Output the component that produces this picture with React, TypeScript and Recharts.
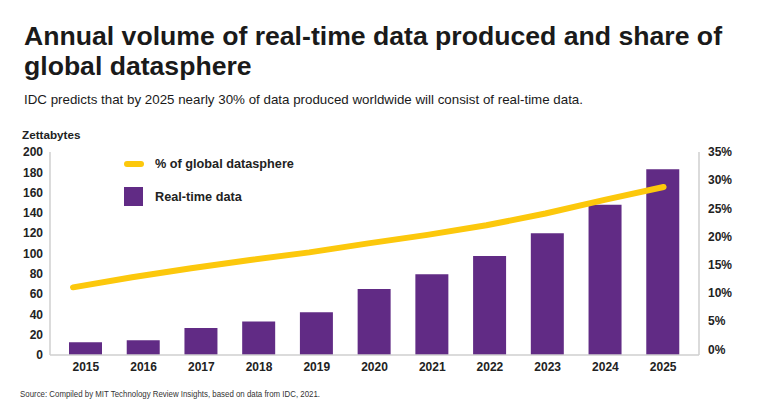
import React from 'react';
import { ComposedChart, Bar, Line, XAxis, YAxis, Legend } from 'recharts';

const years = ['2015', '2016', '2017', '2018', '2019', '2020', '2021', '2022', '2023', '2024', '2025'];
const realTimeZB = [12.5, 14.5, 26.5, 33, 42, 65, 79.5, 97.5, 120, 148, 183];
const shareOfDatasphere = [11.0, 12.8, 14.4, 15.85, 17.2, 18.8, 20.3, 22.0, 24.1, 26.5, 28.8];
const leftTicks = [0, 20, 40, 60, 80, 100, 120, 140, 160, 180, 200];
const rightTicks = [0, 5, 10, 15, 20, 25, 30, 35];

const data = years.map((y, i) => ({
  year: y,
  yearNum: Number(y),
  realtime: realTimeZB[i],
  share: shareOfDatasphere[i],
}));

const FONT = '"Liberation Sans", Arial, sans-serif';
const PURPLE = '#612b85';
const YELLOW = '#fcc80c';
const AXIS = '#cfcfcf';
const TEXT = '#222222';

const tickStyle = { fontFamily: FONT, fontSize: 12, fontWeight: 700, fill: TEXT };

const LegendContent = () => (
  <div style={{ position: 'relative', width: 200, height: 60, fontFamily: FONT }}>
    <div style={{ position: 'absolute', left: 0, top: 10, width: 20, height: 6, borderRadius: 3, background: YELLOW }} />
    <div style={{ position: 'absolute', left: 31, top: 5, fontSize: 12.7, fontWeight: 700, color: TEXT, lineHeight: '16px', whiteSpace: 'nowrap' }}>
      % of global datasphere
    </div>
    <div style={{ position: 'absolute', left: 0, top: 36, width: 19, height: 19, background: PURPLE }} />
    <div style={{ position: 'absolute', left: 31, top: 38, fontSize: 12.7, fontWeight: 700, color: TEXT, lineHeight: '16px', whiteSpace: 'nowrap' }}>
      Real-time data
    </div>
  </div>
);

export default function App() {
  return (
    <div style={{ position: 'absolute', left: 0, top: 0, width: 760, height: 418, background: '#fff', overflow: 'hidden' }}>
      <svg width={760} height={418} style={{ position: 'absolute', left: 0, top: 0 }}>
        <text x={24} y={45} fontFamily={FONT} fontWeight={700} fontSize={26.6} fill="#1a1a1a" textLength={698} lengthAdjust="spacingAndGlyphs">
          Annual volume of real-time data produced and share of
        </text>
        <text x={24} y={75} fontFamily={FONT} fontWeight={700} fontSize={26.6} fill="#1a1a1a">
          global datasphere
        </text>
        <text x={24} y={104} fontFamily={FONT} fontSize={12.8} fill="#1a1a1a" textLength={559} lengthAdjust="spacingAndGlyphs">
          IDC predicts that by 2025 nearly 30% of data produced worldwide will consist of real-time data.
        </text>
        <text x={22} y={139} fontFamily={FONT} fontWeight={700} fontSize={11.7} fill={TEXT}>
          Zettabytes
        </text>
        <text x={20} y={396.5} fontFamily={FONT} fontSize={8.6} fill="#333" textLength={300} lengthAdjust="spacingAndGlyphs">
          Source: Compiled by MIT Technology Review Insights, based on data from IDC, 2021.
        </text>
      </svg>
      <div style={{ position: 'absolute', left: 0, top: 0 }}>
        <ComposedChart width={760} height={418} data={data} margin={{ top: 152, right: 0, bottom: 33, left: 0 }}>
          <XAxis
            xAxisId="cat"
            dataKey="year"
            type="category"
            height={30}
            padding={{ left: 7, right: 7 }}
            axisLine={{ stroke: AXIS, strokeWidth: 1.5 }}
            tickLine={false}
            tickSize={0}
            tickMargin={7}
            tick={tickStyle}
            interval={0}
          />
          <XAxis xAxisId="num" dataKey="yearNum" type="number" domain={[2014.61, 2025.6]} allowDataOverflow hide height={0} />
          <YAxis
            yAxisId="left"
            orientation="left"
            width={50}
            domain={[0, 200]}
            ticks={leftTicks}
            interval={0}
            axisLine={{ stroke: AXIS, strokeWidth: 1.5 }}
            tickLine={false}
            tickSize={0}
            tickMargin={7}
            tick={tickStyle}
          />
          <YAxis
            yAxisId="right"
            orientation="right"
            width={61}
            domain={[-1, 35]}
            ticks={rightTicks}
            interval={0}
            allowDataOverflow
            axisLine={{ stroke: AXIS, strokeWidth: 1.5 }}
            tickLine={false}
            tickSize={0}
            tickMargin={9}
            tick={tickStyle}
            tickFormatter={(v: number) => `${v}%`}
          />
          <Legend
            layout="vertical"
            align="center"
            verticalAlign="middle"
            content={<LegendContent />}
            wrapperStyle={{ left: 124, top: 151, width: 200, height: 60 }}
          />
          <Bar xAxisId="cat" yAxisId="left" dataKey="realtime" name="Real-time data" fill={PURPLE} barSize={33} isAnimationActive={false} />
          <Line
            xAxisId="num"
            yAxisId="right"
            dataKey="share"
            name="% of global datasphere"
            type="linear"
            stroke={YELLOW}
            strokeWidth={6}
            strokeLinecap="round"
            strokeLinejoin="round"
            dot={false}
            activeDot={false}
            isAnimationActive={false}
          />
        </ComposedChart>
      </div>
    </div>
  );
}
